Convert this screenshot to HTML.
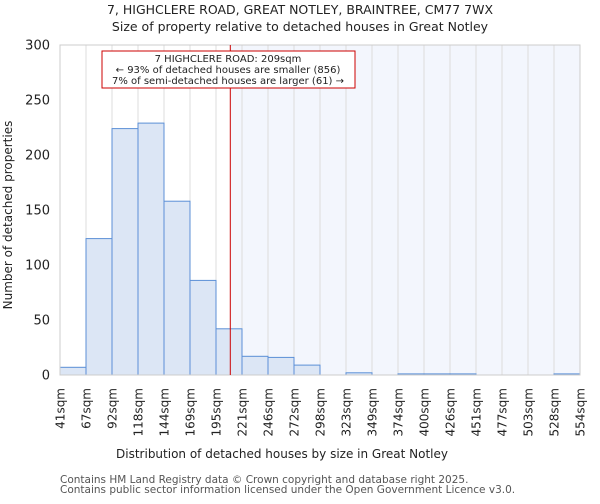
<!DOCTYPE html>
<html><head><meta charset="utf-8"><style>
body{margin:0;background:#fff;font-family:"DejaVu Sans","Liberation Sans",sans-serif}
svg text{font-family:"DejaVu Sans","Liberation Sans",sans-serif;fill:#222}
</style></head><body>
<svg width="600" height="500">
<text x="300" y="14" font-size="12.5" text-anchor="middle">7, HIGHCLERE ROAD, GREAT NOTLEY, BRAINTREE, CM77 7WX</text>
<text x="300" y="31" font-size="12.5" text-anchor="middle">Size of property relative to detached houses in Great Notley</text>
<g id="plot"></g>
<text x="282" y="458" font-size="12" text-anchor="middle">Distribution of detached houses by size in Great Notley</text>
<text transform="translate(12,215) rotate(-90)" font-size="12" text-anchor="middle">Number of detached properties</text>
<text x="60" y="483" font-size="10.5" fill="#555" style="fill:#555">Contains HM Land Registry data © Crown copyright and database right 2025.</text>
<text x="60" y="493" font-size="10.5" style="fill:#555">Contains public sector information licensed under the Open Government Licence v3.0.</text>
</svg>
<script>
const binLabels=["41sqm","67sqm","92sqm","118sqm","144sqm","169sqm","195sqm","221sqm","246sqm","272sqm","298sqm","323sqm","349sqm","374sqm","400sqm","426sqm","451sqm","477sqm","503sqm","528sqm","554sqm"];
const counts=[7,124,224,229,158,86,42,17,16,9,0,2,0,1,1,1,0,0,0,1];
const yTicks=[0,50,100,150,200,250,300];
const subjectSize=209;
const minSize=41, maxSize=554;
const L=60,R=580,T=45,B=375,yMax=300;
const NS="http://www.w3.org/2000/svg";
const g=document.getElementById('plot');
const xb=i=>L+i*(R-L)/counts.length;
const xs=v=>L+(v-minSize)/(maxSize-minSize)*(R-L);
const y=v=>B-v/yMax*(B-T);
function mk(t,a){const e=document.createElementNS(NS,t);for(const k in a)e.setAttribute(k,a[k]);g.appendChild(e);return e;}
const sx=xs(subjectSize);
let e=mk('rect',{x:sx,y:T,width:R-sx,height:B-T,fill:'#f3f6fd'});


for(let i=0;i<=counts.length;i++){e=mk('line',{x1:xb(i),x2:xb(i),y1:T,y2:B,stroke:'#dcdcdc','stroke-width':1});

}
counts.forEach((c,i)=>{if(c<=0)return;e=mk('rect',{x:xb(i),y:y(c),width:xb(i+1)-xb(i),height:B-y(c),fill:'#dce6f5',stroke:'#5b8fd6','stroke-width':1});

});
e=mk('rect',{x:L,y:T,width:R-L,height:B-T,fill:'none',stroke:'#ccc'});


yTicks.forEach(v=>{
e=mk('text',{x:L-10,y:y(v)+4.5,'font-size':13,'text-anchor':'end'});e.textContent=v;

});
binLabels.forEach((s,i)=>{const x=xb(i);
e=mk('text',{transform:`translate(${x+4.5},${B+13}) rotate(-90)`,'font-size':12,'text-anchor':'end'});e.textContent=s;

});
e=mk('line',{x1:sx,x2:sx,y1:T,y2:B,stroke:'#cc0000','stroke-width':1});


e=mk('rect',{x:102,y:51,width:253,height:37,fill:'#fff',stroke:'#cc0000'});


["7 HIGHCLERE ROAD: 209sqm","← 93% of detached houses are smaller (856)","7% of semi-detached houses are larger (61) →"].forEach((t,i)=>{
e=mk('text',{x:228,y:62+i*11,'font-size':10,'text-anchor':'middle'});e.textContent=t;

});
</script>
</body></html>
